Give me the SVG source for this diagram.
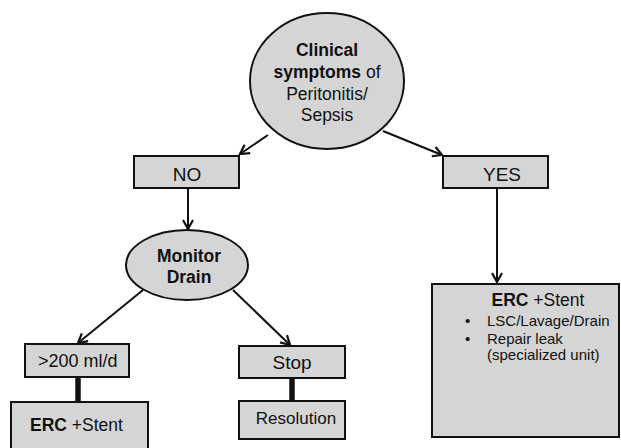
<svg xmlns="http://www.w3.org/2000/svg" width="621" height="448" viewBox="0 0 621 448">
<defs>
<style>
.n{fill:#d5d5d5;stroke:#111;stroke-width:2}
.t{font-family:"Liberation Sans",Arial,sans-serif;fill:#111}
.c{fill:none;stroke:#111;stroke-width:2}
.k{fill:none;stroke:#111;stroke-width:5.5}
</style>
<marker id="a" markerWidth="14" markerHeight="14" refX="10" refY="6" orient="auto" markerUnits="userSpaceOnUse">
<path d="M1,1 L10,6 L1,11" fill="none" stroke="#111" stroke-width="2.2"/>
</marker>
</defs>
<rect width="621" height="448" fill="#fff"/>
<g id="connectors">
<line class="c" x1="268" y1="135" x2="240" y2="154" marker-end="url(#a)"/>
<line class="c" x1="383" y1="131" x2="442" y2="155" marker-end="url(#a)"/>
<line class="c" x1="188" y1="188" x2="188" y2="229" marker-end="url(#a)"/>
<line class="c" x1="497" y1="188" x2="497" y2="282" marker-end="url(#a)"/>
<line class="c" x1="143" y1="290" x2="78" y2="343" marker-end="url(#a)"/>
<line class="c" x1="233" y1="290" x2="290" y2="345" marker-end="url(#a)"/>
<line class="k" x1="78" y1="377" x2="78" y2="402"/>
<line class="k" x1="292" y1="378" x2="292" y2="401"/>
</g>
<g id="clinical">
<ellipse class="n" cx="327" cy="81" rx="77" ry="68"/>
<text class="t" font-size="17.5" text-anchor="middle"><tspan x="327" y="56" font-weight="bold">Clinical</tspan><tspan x="327" y="78"><tspan font-weight="bold">symptoms</tspan> of</tspan><tspan x="327" y="100">Peritonitis/</tspan><tspan x="327" y="121">Sepsis</tspan></text>
</g>
<g id="no">
<rect class="n" x="134" y="156" width="105" height="32"/>
<text class="t" x="187" y="181" font-size="19" text-anchor="middle">NO</text>
</g>
<g id="yes">
<rect class="n" x="443" y="156" width="105" height="32"/>
<text class="t" x="502" y="181" font-size="19" text-anchor="middle">YES</text>
</g>
<g id="monitor">
<ellipse class="n" cx="187" cy="265" rx="61" ry="35"/>
<text class="t" font-size="17.5" font-weight="bold" text-anchor="middle"><tspan x="189" y="262">Monitor</tspan><tspan x="189" y="283">Drain</tspan></text>
</g>
<g id="erc-yes">
<rect class="n" x="432" y="284" width="187" height="153"/>
<text class="t" x="538" y="306" font-size="17.5" text-anchor="middle"><tspan font-weight="bold">ERC</tspan> +Stent</text>
<text class="t" font-size="15"><tspan x="465" y="326">•</tspan><tspan x="487" y="326">LSC/Lavage/Drain</tspan><tspan x="465" y="344">•</tspan><tspan x="487" y="344">Repair leak</tspan><tspan x="487" y="360">(specialized unit)</tspan></text>
</g>
<g id="gt200">
<rect class="n" x="25" y="344" width="104" height="33"/>
<text class="t" x="38" y="367" font-size="18">&gt;200 ml/d</text>
</g>
<g id="erc-no">
<rect class="n" x="11" y="402" width="137" height="60"/>
<text class="t" x="30" y="431" font-size="17.5"><tspan font-weight="bold">ERC</tspan> +Stent</text>
</g>
<g id="stop">
<rect class="n" x="239" y="346" width="106" height="32"/>
<text class="t" x="292" y="369" font-size="19" text-anchor="middle">Stop</text>
</g>
<g id="resolution">
<rect class="n" x="239" y="401" width="106" height="38"/>
<text class="t" x="296" y="424" font-size="17" text-anchor="middle">Resolution</text>
</g>
</svg>
